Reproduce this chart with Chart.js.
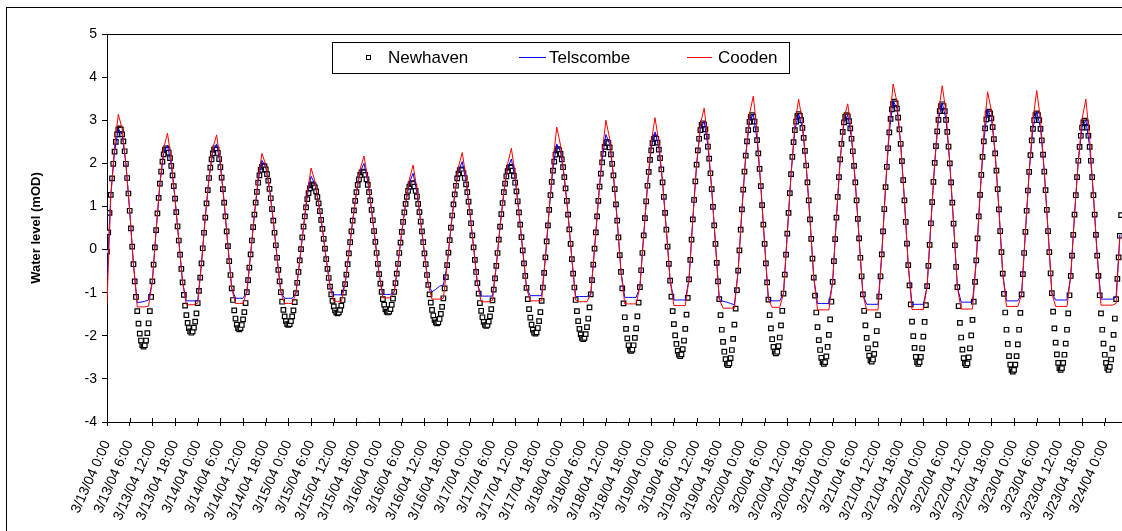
<!DOCTYPE html>
<html>
<head>
<meta charset="utf-8">
<script src="https://cdn.jsdelivr.net/npm/chart.js@4.4.1/dist/chart.umd.min.js"></script>
<style>
  html, body { margin: 0; padding: 0; background: #fff; overflow: hidden; width: 1122px; height: 531px; }
  #frame { position: absolute; left: 6px; top: 7px; width: 1300px; height: 700px; border: 1px solid #000; box-sizing: border-box; }
  #wrap { position: absolute; left: 0; top: 0; width: 1140px; height: 531px; }
</style>
</head>
<body>
<div id="frame"></div>
<div id="wrap"><canvas id="c" width="1140" height="531"></canvas></div>
<script>
// Tide gauges, 13-24 March 2004. x is hours since 3/13/04 0:00.
const NH_STEP = 1 / 3;   // Newhaven logged every 20 min
const LINE_STEP = 1;     // Telscombe / Cooden read hourly

const xTickLabels = [
  "3/13/04 0:00", "3/13/04 6:00", "3/13/04 12:00", "3/13/04 18:00",
  "3/14/04 0:00", "3/14/04 6:00", "3/14/04 12:00", "3/14/04 18:00",
  "3/15/04 0:00", "3/15/04 6:00", "3/15/04 12:00", "3/15/04 18:00",
  "3/16/04 0:00", "3/16/04 6:00", "3/16/04 12:00", "3/16/04 18:00",
  "3/17/04 0:00", "3/17/04 6:00", "3/17/04 12:00", "3/17/04 18:00",
  "3/18/04 0:00", "3/18/04 6:00", "3/18/04 12:00", "3/18/04 18:00",
  "3/19/04 0:00", "3/19/04 6:00", "3/19/04 12:00", "3/19/04 18:00",
  "3/20/04 0:00", "3/20/04 6:00", "3/20/04 12:00", "3/20/04 18:00",
  "3/21/04 0:00", "3/21/04 6:00", "3/21/04 12:00", "3/21/04 18:00",
  "3/22/04 0:00", "3/22/04 6:00", "3/22/04 12:00", "3/22/04 18:00",
  "3/23/04 0:00", "3/23/04 6:00", "3/23/04 12:00", "3/23/04 18:00",
  "3/24/04 0:00"
];
const yTicks = [-4, -3, -2, -1, 0, 1, 2, 3, 4, 5];

// one row per half tide
const newhaven = [
  -0.05, 0.40, 0.85, 1.27, 1.65, 1.99, 2.27, 2.50, 2.67, 2.78,
  2.81, 2.78, 2.67, 2.51, 2.28, 1.99, 1.66, 1.30, 0.90, 0.49, 0.07, -0.34, -0.74, -1.10, -1.43, -1.72, -1.95, -2.11, -2.22,
  -2.25, -2.22, -2.11, -1.94, -1.71, -1.43, -1.10, -0.74, -0.35, 0.05, 0.45, 0.84, 1.20, 1.53, 1.81, 2.04, 2.21, 2.32,
  2.35, 2.32, 2.25, 2.12, 1.94, 1.72, 1.47, 1.18, 0.87, 0.54, 0.21, -0.12, -0.45, -0.76, -1.05, -1.30, -1.52, -1.70, -1.82, -1.90,
  -1.93, -1.90, -1.81, -1.67, -1.48, -1.24, -0.96, -0.65, -0.32, 0.03, 0.39, 0.74, 1.07, 1.38, 1.66, 1.90, 2.09, 2.23, 2.32,
  2.35, 2.32, 2.24, 2.10, 1.91, 1.67, 1.40, 1.09, 0.77, 0.42, 0.08, -0.27, -0.59, -0.90, -1.17, -1.41, -1.60, -1.74, -1.82,
  -1.85, -1.82, -1.75, -1.62, -1.45, -1.24, -0.99, -0.71, -0.42, -0.11, 0.21, 0.52, 0.81, 1.09, 1.34, 1.55, 1.72, 1.85, 1.92,
  1.95, 1.93, 1.86, 1.75, 1.60, 1.41, 1.19, 0.94, 0.67, 0.39, 0.10, -0.19, -0.47, -0.74, -0.99, -1.21, -1.40, -1.55, -1.66, -1.73,
  -1.75, -1.73, -1.66, -1.55, -1.41, -1.22, -1.01, -0.77, -0.52, -0.25, 0.01, 0.28, 0.53, 0.77, 0.98, 1.17, 1.31, 1.42, 1.49,
  1.51, 1.49, 1.44, 1.35, 1.22, 1.07, 0.89, 0.69, 0.48, 0.25, 0.02, -0.22, -0.45, -0.66, -0.86, -1.04, -1.19, -1.32, -1.41, -1.46,
  -1.48, -1.46, -1.40, -1.30, -1.17, -1.00, -0.80, -0.58, -0.34, -0.09, 0.17, 0.42, 0.67, 0.91, 1.13, 1.33, 1.50, 1.63, 1.73, 1.79,
  1.81, 1.79, 1.73, 1.63, 1.50, 1.33, 1.14, 0.92, 0.68, 0.43, 0.18, -0.08, -0.33, -0.57, -0.79, -0.98, -1.15, -1.28, -1.38, -1.44,
  -1.46, -1.44, -1.38, -1.28, -1.14, -0.98, -0.78, -0.56, -0.33, -0.08, 0.16, 0.41, 0.64, 0.86, 1.06, 1.22, 1.36, 1.46, 1.52,
  1.54, 1.52, 1.46, 1.36, 1.23, 1.06, 0.87, 0.65, 0.42, 0.17, -0.09, -0.34, -0.59, -0.82, -1.04, -1.23, -1.40, -1.53, -1.63, -1.69,
  -1.71, -1.69, -1.61, -1.49, -1.33, -1.13, -0.90, -0.64, -0.36, -0.07, 0.22, 0.51, 0.79, 1.05, 1.28, 1.48, 1.65, 1.76, 1.84,
  1.86, 1.84, 1.77, 1.66, 1.51, 1.33, 1.11, 0.87, 0.61, 0.33, 0.05, -0.24, -0.52, -0.78, -1.02, -1.24, -1.42, -1.57, -1.68, -1.75,
  -1.77, -1.75, -1.67, -1.55, -1.38, -1.18, -0.93, -0.67, -0.38, -0.08, 0.23, 0.53, 0.82, 1.08, 1.33, 1.53, 1.70, 1.82, 1.90,
  1.92, 1.90, 1.83, 1.71, 1.55, 1.35, 1.12, 0.86, 0.58, 0.29, -0.02, -0.32, -0.61, -0.89, -1.15, -1.38, -1.58, -1.74, -1.86, -1.93,
  -1.95, -1.92, -1.82, -1.66, -1.45, -1.19, -0.88, -0.54, -0.18, 0.19, 0.56, 0.92, 1.26, 1.57, 1.83, 2.04, 2.20, 2.30,
  2.33, 2.30, 2.22, 2.09, 1.91, 1.68, 1.42, 1.13, 0.81, 0.47, 0.13, -0.22, -0.56, -0.88, -1.17, -1.43, -1.66, -1.84, -1.97, -2.05,
  -2.08, -2.05, -1.96, -1.80, -1.60, -1.34, -1.04, -0.71, -0.35, 0.02, 0.40, 0.77, 1.13, 1.46, 1.76, 2.02, 2.22, 2.38, 2.47,
  2.50, 2.47, 2.37, 2.21, 1.99, 1.72, 1.40, 1.05, 0.67, 0.28, -0.13, -0.52, -0.90, -1.25, -1.57, -1.84, -2.06, -2.22, -2.32,
  -2.35, -2.32, -2.22, -2.05, -1.83, -1.55, -1.23, -0.87, -0.48, -0.08, 0.33, 0.73, 1.12, 1.48, 1.80, 2.08, 2.30, 2.47, 2.57,
  2.60, 2.57, 2.48, 2.32, 2.12, 1.86, 1.56, 1.22, 0.85, 0.46, 0.07, -0.33, -0.72, -1.09, -1.43, -1.73, -1.99, -2.19, -2.35, -2.44,
  -2.47, -2.43, -2.31, -2.11, -1.84, -1.51, -1.12, -0.69, -0.24, 0.23, 0.70, 1.15, 1.58, 1.97, 2.30, 2.57, 2.77, 2.89,
  2.93, 2.90, 2.79, 2.62, 2.39, 2.11, 1.77, 1.40, 0.99, 0.56, 0.13, -0.31, -0.74, -1.15, -1.52, -1.86, -2.14, -2.37, -2.54, -2.65,
  -2.68, -2.64, -2.52, -2.33, -2.07, -1.74, -1.37, -0.94, -0.49, -0.02, 0.46, 0.93, 1.39, 1.81, 2.18, 2.51, 2.77, 2.96, 3.08,
  3.12, 3.08, 2.97, 2.79, 2.54, 2.23, 1.87, 1.47, 1.03, 0.58, 0.13, -0.32, -0.76, -1.16, -1.52, -1.83, -2.08, -2.26, -2.37,
  -2.41, -2.37, -2.24, -2.04, -1.76, -1.42, -1.02, -0.58, -0.12, 0.37, 0.85, 1.31, 1.75, 2.15, 2.49, 2.77, 2.97, 3.10,
  3.14, 3.10, 3.00, 2.82, 2.59, 2.29, 1.95, 1.56, 1.14, 0.70, 0.25, -0.21, -0.65, -1.07, -1.46, -1.80, -2.10, -2.33, -2.51, -2.61,
  -2.65, -2.61, -2.48, -2.26, -1.98, -1.62, -1.21, -0.75, -0.27, 0.24, 0.74, 1.22, 1.68, 2.09, 2.45, 2.73, 2.95, 3.08,
  3.12, 3.09, 2.98, 2.81, 2.57, 2.28, 1.94, 1.56, 1.14, 0.71, 0.26, -0.19, -0.62, -1.04, -1.42, -1.76, -2.05, -2.29, -2.46, -2.57,
  -2.60, -2.55, -2.42, -2.20, -1.89, -1.52, -1.09, -0.62, -0.11, 0.42, 0.94, 1.45, 1.92, 2.35, 2.72, 3.03, 3.25, 3.38,
  3.43, 3.39, 3.27, 3.06, 2.79, 2.45, 2.05, 1.61, 1.14, 0.64, 0.14, -0.36, -0.83, -1.27, -1.67, -2.01, -2.28, -2.49, -2.61,
  -2.65, -2.61, -2.49, -2.29, -2.02, -1.68, -1.29, -0.85, -0.38, 0.11, 0.61, 1.10, 1.57, 2.01, 2.40, 2.74, 3.01, 3.21, 3.33,
  3.37, 3.33, 3.21, 3.01, 2.73, 2.39, 2.00, 1.56, 1.09, 0.60, 0.10, -0.40, -0.87, -1.31, -1.70, -2.04, -2.32, -2.52, -2.64,
  -2.68, -2.64, -2.50, -2.29, -1.99, -1.63, -1.21, -0.75, -0.25, 0.26, 0.77, 1.27, 1.73, 2.15, 2.51, 2.81, 3.02, 3.16,
  3.20, 3.16, 3.04, 2.84, 2.56, 2.23, 1.83, 1.40, 0.93, 0.43, -0.06, -0.56, -1.03, -1.46, -1.86, -2.19, -2.47, -2.67, -2.79,
  -2.83, -2.79, -2.67, -2.47, -2.20, -1.86, -1.47, -1.04, -0.57, -0.08, 0.41, 0.90, 1.37, 1.80, 2.19, 2.53, 2.80, 3.00, 3.12,
  3.16, 3.12, 3.00, 2.80, 2.53, 2.20, 1.81, 1.38, 0.92, 0.43, -0.06, -0.55, -1.01, -1.44, -1.83, -2.16, -2.43, -2.63, -2.75,
  -2.79, -2.75, -2.63, -2.44, -2.18, -1.86, -1.48, -1.06, -0.61, -0.14, 0.34, 0.81, 1.26, 1.68, 2.06, 2.38, 2.64, 2.83, 2.95,
  2.99, 2.95, 2.83, 2.64, 2.38, 2.06, 1.68, 1.26, 0.81, 0.34, -0.14, -0.61, -1.06, -1.48, -1.86, -2.18, -2.44, -2.63, -2.75,
  -2.79, -2.72, -2.55, -2.30, -1.98, -1.60, -1.15, -0.68, -0.18, 0.32, 0.80
];

// hourly, 12 h per row; the flat bits are where the gauge runs dry
const telscombe = [
  -0.63, 1.27, 2.27, 2.80, 2.67, 1.99, 0.90, -0.34, -1.23, -1.22, -1.20, -1.17,
  -0.74, 0.45, 1.53, 2.24, 2.42, 1.97, 1.18, 0.21, -0.76, -1.19, -1.19, -1.19,
  -1.19, -0.32, 0.74, 1.66, 2.27, 2.45, 1.95, 1.09, 0.08, -0.90, -1.13, -1.13,
  -1.13, -0.99, -0.11, 0.81, 1.60, 2.07, 1.91, 1.41, 0.67, -0.19, -0.99, -1.13,
  -1.13, -1.13, -1.01, -0.25, 0.53, 1.25, 1.70, 1.52, 1.07, 0.48, -0.22, -0.86,
  -1.05, -1.05, -1.05, -0.80, -0.09, 0.67, 1.33, 1.81, 2.00, 1.58, 0.92, 0.18,
  -0.57, -1.04, -1.04, -1.04, -0.98, -0.33, 0.41, 1.06, 1.55, 1.77, 1.32, 0.65,
  -0.09, -0.82, -0.98, -0.92, -0.85, -0.82, -0.36, 0.51, 1.28, 1.83, 2.04, 1.58,
  0.87, 0.05, -0.78, -1.08, -1.08, -1.08, -1.08, -0.38, 0.53, 1.33, 1.89, 2.10,
  1.62, 0.86, -0.02, -0.89, -1.07, -1.07, -1.07, -1.07, -0.18, 0.92, 1.88, 2.45,
  2.27, 1.68, 0.81, -0.22, -1.09, -1.09, -1.09, -1.09, -1.04, 0.02, 1.13, 2.09,
  2.67, 2.44, 1.72, 0.67, -0.52, -1.11, -1.11, -1.11, -1.11, -0.87, 0.33, 1.48,
  2.35, 2.73, 2.37, 1.56, 0.46, -0.72, -1.17, -1.17, -1.17, -1.17, -0.69, 0.70,
  1.97, 2.79, 2.97, 2.41, 1.40, 0.13, -1.15, -1.20, -1.22, -1.25, -1.28, -0.49,
  0.93, 2.18, 2.97, 3.14, 2.55, 1.47, 0.13, -1.16, -1.19, -1.19, -1.19, -1.02,
  0.37, 1.75, 2.77, 3.15, 2.82, 1.95, 0.70, -0.65, -1.25, -1.25, -1.25, -1.25,
  -0.75, 0.74, 2.09, 2.95, 3.12, 2.57, 1.56, 0.26, -1.04, -1.27, -1.27, -1.27,
  -1.27, -0.11, 1.45, 2.73, 3.45, 3.28, 2.45, 1.14, -0.36, -1.27, -1.27, -1.27,
  -1.27, -0.85, 0.61, 2.01, 3.02, 3.40, 3.02, 2.00, 0.60, -0.87, -1.22, -1.22,
  -1.22, -1.22, -0.25, 1.27, 2.53, 3.25, 3.06, 2.23, 0.93, -0.56, -1.19, -1.19,
  -1.19, -1.19, -1.04, 0.41, 1.80, 2.82, 3.20, 2.82, 1.81, 0.43, -1.01, -1.17,
  -1.17, -1.17, -1.17, -0.61, 0.81, 2.06, 2.83, 3.00, 2.38, 1.26, -0.14, -1.15,
  -1.15, -1.15, -1.15, -1.10, 0.35
];

const cooden = [
  -1.25, 1.20, 2.40, 3.14, 2.80, 1.99, 0.90, -0.34, -1.33, -1.33, -1.33, -1.31,
  -0.74, 0.45, 1.53, 2.35, 2.70, 2.08, 1.18, 0.21, -0.76, -1.28, -1.28, -1.28,
  -1.24, -0.32, 0.74, 1.66, 2.35, 2.66, 2.03, 1.09, 0.08, -0.90, -1.25, -1.25,
  -1.25, -0.99, -0.11, 0.81, 1.66, 2.23, 1.97, 1.41, 0.67, -0.19, -0.99, -1.25,
  -1.25, -1.25, -1.01, -0.25, 0.53, 1.32, 1.89, 1.59, 1.07, 0.48, -0.22, -0.86,
  -1.20, -1.20, -1.20, -0.80, -0.09, 0.67, 1.33, 1.87, 2.17, 1.64, 0.92, 0.18,
  -0.57, -1.12, -1.12, -1.12, -0.98, -0.33, 0.41, 1.06, 1.63, 1.96, 1.40, 0.65,
  -0.09, -0.82, -1.15, -1.15, -1.15, -1.13, -0.36, 0.51, 1.28, 1.92, 2.25, 1.67,
  0.87, 0.05, -0.78, -1.21, -1.21, -1.21, -1.18, -0.38, 0.53, 1.33, 1.99, 2.35,
  1.72, 0.86, -0.02, -0.89, -1.19, -1.19, -1.19, -1.19, -0.18, 0.92, 2.03, 2.84,
  2.42, 1.68, 0.81, -0.22, -1.17, -1.21, -1.21, -1.21, -1.04, 0.02, 1.13, 2.22,
  3.00, 2.57, 1.72, 0.67, -0.52, -1.26, -1.26, -1.26, -1.26, -0.87, 0.33, 1.48,
  2.48, 3.06, 2.50, 1.56, 0.46, -0.72, -1.30, -1.30, -1.30, -1.30, -0.69, 0.70,
  1.97, 2.91, 3.28, 2.53, 1.40, 0.13, -1.15, -1.36, -1.36, -1.36, -1.36, -0.49,
  0.93, 2.18, 3.14, 3.56, 2.72, 1.47, 0.13, -1.16, -1.34, -1.34, -1.34, -1.02,
  0.37, 1.75, 2.91, 3.49, 2.96, 1.95, 0.70, -0.65, -1.40, -1.40, -1.40, -1.40,
  -0.75, 0.74, 2.09, 3.05, 3.38, 2.67, 1.56, 0.26, -1.04, -1.40, -1.40, -1.40,
  -1.40, -0.11, 1.45, 2.88, 3.84, 3.43, 2.45, 1.14, -0.36, -1.39, -1.39, -1.39,
  -1.39, -0.85, 0.61, 2.01, 3.18, 3.80, 3.18, 2.00, 0.60, -0.87, -1.38, -1.38,
  -1.38, -1.38, -0.25, 1.27, 2.69, 3.66, 3.22, 2.23, 0.93, -0.56, -1.32, -1.32,
  -1.32, -1.32, -1.04, 0.41, 1.80, 3.01, 3.69, 3.01, 1.81, 0.43, -1.01, -1.32,
  -1.32, -1.32, -1.32, -0.61, 0.81, 2.06, 3.03, 3.49, 2.58, 1.26, -0.14, -1.29,
  -1.29, -1.29, -1.29, -1.25, 0.30
];

const FONT = "'Liberation Sans', Arial, sans-serif";
const BLUE = "#0000ff";
const RED = "#ff0000";
const pts = (vals, step) => vals.map((y, i) => ({ x: i * step, y }));

// Excel-style legend: a bordered box floating over the top of the plot
const legendBox = {
  id: "legendBox",
  afterDraw(chart) {
    const ctx = chart.ctx;
    const ds = chart.data.datasets;
    ctx.save();
    ctx.fillStyle = "#fff";
    ctx.fillRect(332, 42, 457, 31);
    ctx.strokeStyle = "#000";
    ctx.lineWidth = 1;
    ctx.strokeRect(332.5, 42.5, 457, 31);
    ctx.font = "17px " + FONT;
    ctx.textBaseline = "middle";
    // Newhaven marker
    ctx.fillStyle = "#fff";
    ctx.fillRect(366.5, 55.5, 4, 4);
    ctx.strokeRect(366.5, 55.5, 4, 4);
    ctx.fillStyle = "#000";
    ctx.fillText(ds[0].label, 388, 58);
    // Telscombe
    ctx.strokeStyle = BLUE;
    ctx.beginPath(); ctx.moveTo(519, 57.5); ctx.lineTo(546, 57.5); ctx.stroke();
    ctx.fillText(ds[1].label, 549, 58);
    // Cooden
    ctx.strokeStyle = RED;
    ctx.beginPath(); ctx.moveTo(687, 57.5); ctx.lineTo(712, 57.5); ctx.stroke();
    ctx.fillText(ds[2].label, 718, 58);
    ctx.restore();
  }
};

// plot-area top edge + the inner half of the x tick marks (Excel ticks cross the axis)
const frameBits = {
  id: "frameBits",
  afterDraw(chart) {
    const { ctx, chartArea: a, scales } = chart;
    ctx.save();
    ctx.strokeStyle = "#000";
    ctx.lineWidth = 1;
    ctx.beginPath();
    ctx.moveTo(a.left, a.top + 0.5); ctx.lineTo(a.right, a.top + 0.5);
    scales.x.ticks.forEach(t => {
      const px = Math.round(scales.x.getPixelForValue(t.value)) + 0.5;
      ctx.moveTo(px, a.bottom - 4); ctx.lineTo(px, a.bottom);
    });
    ctx.stroke();
    ctx.restore();
  }
};

new Chart(document.getElementById("c"), {
  type: "line",
  data: {
    datasets: [
      {
        label: "Newhaven", data: pts(newhaven, NH_STEP), order: 3,
        showLine: false, pointStyle: "rect", pointRadius: 3.2, pointBorderWidth: 1.2,
        pointBorderColor: "#000", pointBackgroundColor: "#fff", pointHoverRadius: 0,
      },
      {
        label: "Telscombe", data: pts(telscombe, LINE_STEP), order: 2,
        borderColor: BLUE, borderWidth: 1, pointRadius: 0, tension: 0, fill: false,
      },
      {
        label: "Cooden", data: pts(cooden, LINE_STEP), order: 1,
        borderColor: RED, borderWidth: 1, pointRadius: 0, tension: 0, fill: false,
      },
    ],
  },
  options: {
    responsive: false, animation: false, events: [],
    layout: { padding: { left: 29, top: 34, right: 5, bottom: 0 } },
    plugins: { legend: { display: false }, tooltip: { enabled: false } },
    scales: {
      x: {
        type: "linear", min: 0, max: 272,
        afterBuildTicks: s => { s.ticks = xTickLabels.map((_, i) => ({ value: i * 6 })); },
        afterFit: s => { s.height = 109; },
        ticks: {
          autoSkip: false, minRotation: 66, maxRotation: 66, padding: 12,
          color: "#000", font: { family: FONT, size: 14 },
          callback: (v, i) => xTickLabels[i],
        },
        grid: { drawOnChartArea: false, tickLength: 4, color: "#000" },
        border: { color: "#000" },
      },
      y: {
        min: -4, max: 5,
        afterBuildTicks: s => { s.ticks = yTicks.map(v => ({ value: v })); },
        afterFit: s => { s.width = 78; },
        ticks: { color: "#000", font: { family: FONT, size: 14 }, padding: 5 },
        grid: { drawOnChartArea: false, tickLength: 5, color: "#000" },
        border: { color: "#000" },
        title: {
          display: true, text: "Water level (mOD)", color: "#000", padding: { top: 0, bottom: 0 },
          font: { family: FONT, size: 13, weight: "bold" },
        },
      },
    },
  },
  plugins: [legendBox, frameBits],
});
</script>
</body>
</html>
